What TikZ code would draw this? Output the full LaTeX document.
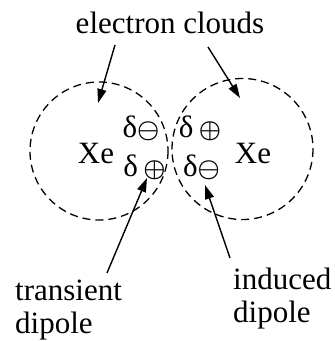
\documentclass[tikz,border=0pt]{standalone}
\usepackage{fontspec}
\setmainfont{Liberation Serif}
\usetikzlibrary{arrows.meta}
\tikzset{cloud/.style = {dashed, dash pattern=on 8pt off 5pt, line width=1.3pt}}
\tikzset{pointer/.style = {line width=1.4pt, -{Triangle[length=14pt,width=9pt]}}}
\tikzset{lbl/.style = {inner sep=0, font=\fontsize{31}{33}\selectfont}}
\newcommand{\chgplus}{{\fontsize{27}{27}\selectfont$\boldsymbol{\oplus}$}}
\newcommand{\chgminus}{{\fontsize{27}{27}\selectfont$\boldsymbol{\ominus}$}}
\usepackage{amsmath,bm}

\begin{document}
\begin{tikzpicture}[x=1pt, y=-1pt]
      \useasboundingbox (0,0) rectangle (335,341);
      \draw[cloud] (99,151) circle (69);
      \draw[cloud] (242.5,149) circle (70.5);
      \node[lbl, anchor=base] (clouds) at (170,33) {electron clouds};
      \node[lbl, anchor=base] (xe1) at (96,163) {Xe};
      \node[lbl, anchor=base] (xe2) at (253,163) {Xe};
      \node[lbl, anchor=base] (dm1) at (141,137) {δ\chgminus};
      \node[lbl, anchor=base] (dp1) at (144.5,176) {δ\,\chgplus};
      \node[lbl, anchor=base] (dp2) at (200,137) {δ\,\chgplus};
      \node[lbl, anchor=base] (dm2) at (201.5,176) {δ\chgminus};
      \node[lbl, anchor=base west, align=left] (trans) at (15,333)
        {transient\\dipole};
      \node[lbl, anchor=base west, align=left] (induc) at (233,322)
        {induced\\dipole};
      \coordinate (c1) at (115,45);
      \coordinate (c2) at (208,47);
      \coordinate (t1) at (98,103);
      \coordinate (t2) at (240,98);
      \coordinate (c3) at (107,273);
      \coordinate (c4) at (230,258);
      \coordinate (t3) at (147,178);
      \coordinate (t4) at (205,185);
      \draw[pointer] (c1) -- (t1);
      \draw[pointer] (c2) -- (t2);
      \draw[pointer] (c3) -- (t3);
      \draw[pointer] (c4) -- (t4);
\end{tikzpicture}
\end{document}
